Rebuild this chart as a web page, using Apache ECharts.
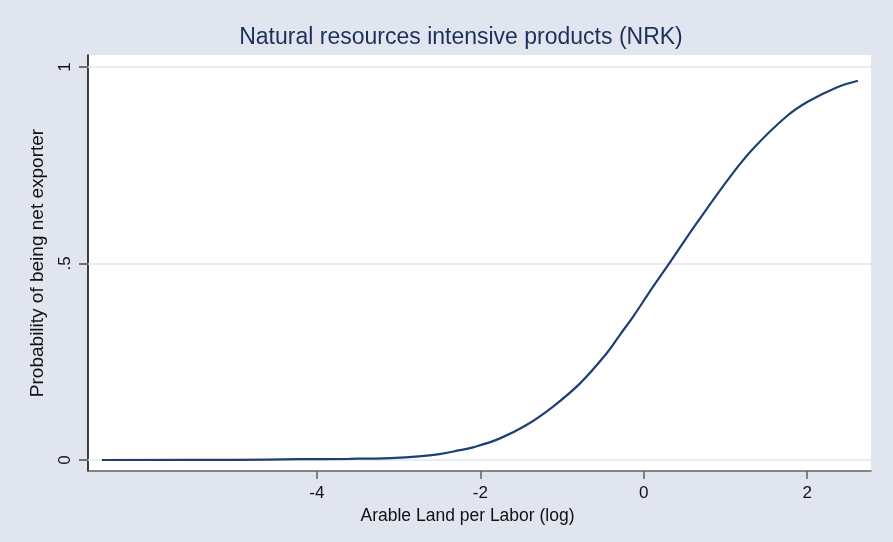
<!DOCTYPE html>
<html>
<head>
<meta charset="utf-8">
<script src="https://cdn.jsdelivr.net/npm/echarts@6/dist/echarts.min.js"></script>
<style>
html,body{margin:0;padding:0;background:#e1e5f0;}
#c{width:893px;height:542px;}
</style>
</head>
<body>
<div id="c"></div>
<script>
// Data
const xValues = [-6.63, -5.0, -4.2, -3.6, -3.1, -2.75, -2.5, -2.25, -2.09, -1.76, -1.435, -1.11, -0.78, -0.456, -0.294, -0.13, 0.114, 0.318, 0.645, 1.09, 1.36, 1.745, 2.01, 2.36, 2.62];
const yValues = [0.000, 0.0005, 0.002, 0.003, 0.005, 0.009, 0.015, 0.025, 0.032, 0.055, 0.089, 0.136, 0.195, 0.271, 0.318, 0.365, 0.441, 0.502, 0.602, 0.730, 0.797, 0.874, 0.912, 0.948, 0.965];
const xTicks = [-4, -2, 0, 2];
const yTicks = [0, 0.5, 1];
const yTickLabels = ['0', '.5', '1'];

const titleText = 'Natural resources intensive products (NRK)';
const xName = 'Arable Land per Labor (log)';
const yName = 'Probability of being net exporter';

const chart = echarts.init(document.getElementById('c'));
const font = '"Liberation Sans", Arial, sans-serif';
chart.setOption({
  animation: false,
  backgroundColor: '#e1e5f0',
  title: {
    text: titleText,
    left: 456, top: 21, textAlign: 'center',
    textStyle: {color: '#1f2f5c', fontSize: 23, fontWeight: 'normal', fontFamily: font}
  },
  grid: {left: 88, right: 22, top: 55, bottom: 71, show: true, backgroundColor: '#ffffff', borderWidth: 0},
  xAxis: {
    type: 'value', min: -6.80, max: 2.78,
    name: xName, nameLocation: 'middle', nameGap: 36,
    nameTextStyle: {color: '#111', fontSize: 17.5, fontFamily: font, padding: [0, 0, 0, -24]},
    axisLine: {show: true, onZero: false, lineStyle: {color: '#606060', width: 1.5}},
    axisTick: {show: true, length: 8, customValues: xTicks, lineStyle: {color: '#606060', width: 1.5}},
    axisLabel: {customValues: xTicks, color: '#111', fontSize: 17, fontFamily: font, margin: 14},
    splitLine: {show: false}
  },
  yAxis: {
    type: 'value', min: -0.028, max: 1.0305,
    name: yName, nameLocation: 'middle', nameGap: 41, nameRotate: 90,
    nameTextStyle: {color: '#111', fontSize: 19, fontFamily: font},
    axisLine: {show: true, onZero: false, lineStyle: {color: '#000', width: 1.5}},
    axisTick: {show: true, length: 9, customValues: yTicks, lineStyle: {color: '#707070', width: 2}},
    axisLabel: {
      customValues: yTicks, rotate: 90, color: '#111', fontSize: 17, fontFamily: font, margin: 14,
      formatter: v => { const i = yTicks.findIndex(t => Math.abs(t - v) < 1e-9); return i >= 0 ? yTickLabels[i] : ''; }
    },
    splitLine: {show: false}
  },
  series: [
    {
      type: 'line', data: [], z: 1, silent: true,
      markLine: {
        z: 1, symbol: 'none', silent: true, label: {show: false},
        lineStyle: {color: '#e1e5ef', type: 'solid', width: 1.5},
        data: yTicks.map(v => ({yAxis: v}))
      }
    },
    {
      type: 'line', z: 10, smooth: 0.4, showSymbol: false,
      lineStyle: {color: '#1e3f73', width: 2.2},
      data: xValues.map((x, i) => [x, yValues[i]])
    }
  ]
});
</script>
</body>
</html>
